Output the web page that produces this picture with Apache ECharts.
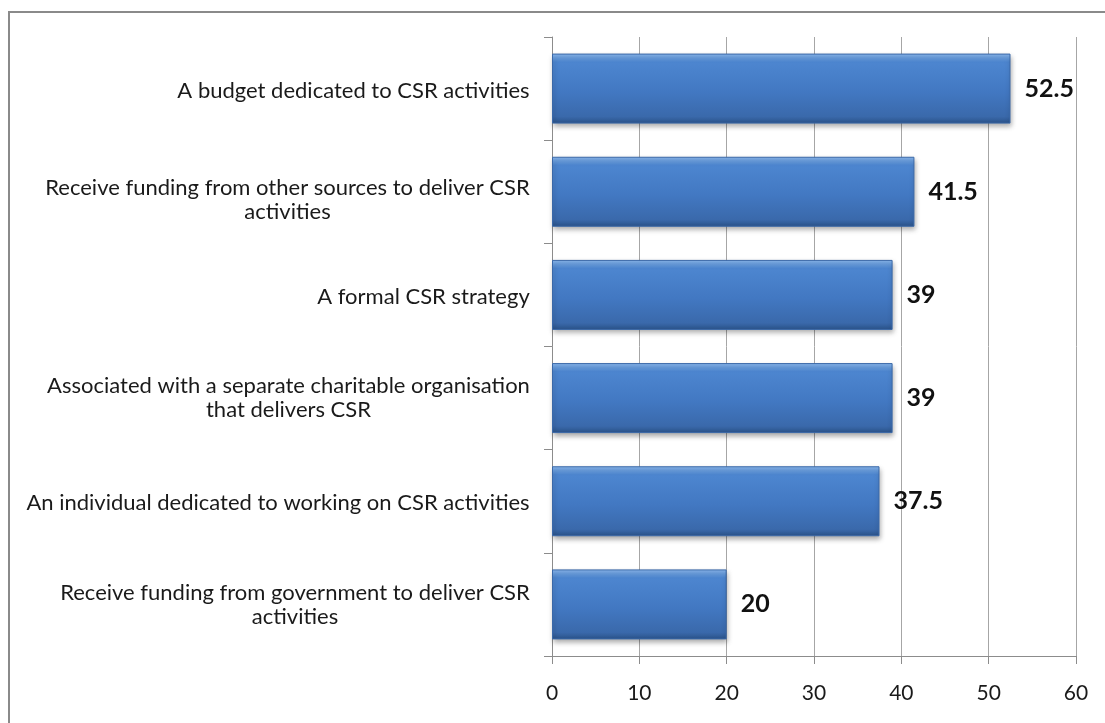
<!DOCTYPE html>
<html>
<head>
<meta charset="utf-8">
<style>
  html, body { margin: 0; padding: 0; background: #ffffff; }
  #chart { width: 1105px; height: 723px; }
</style>
<script src="https://cdn.jsdelivr.net/npm/echarts@6/dist/echarts.min.js"></script>
</head>
<body>
<div id="chart"></div>
<script>
// Share of organisations reporting each CSR arrangement (%)
const categories = [
  'A budget dedicated to CSR activities',
  'Receive funding from other sources to deliver CSR\nactivities',
  'A formal CSR strategy',
  'Associated with a separate charitable organisation\nthat delivers CSR',
  'An individual dedicated to working on CSR activities',
  'Receive funding from government to deliver CSR\nactivities'
];
const values = [52.5, 41.5, 39, 39, 37.5, 20];
const xTicks = [0, 10, 20, 30, 40, 50, 60];

const LABEL_FONT = 'Lato';
const LABEL_SIZE = 22;
// per-label vertical nudge (px, downward)
const labelNudge = [2, 8, 2, 0, 2, 0];

// Measure each label's widest line so multi-line labels can be centred
// within their own block while the block stays right-aligned to the axis.
const ctx = document.createElement('canvas').getContext('2d');
ctx.font = LABEL_SIZE + 'px ' + LABEL_FONT;
const rich = {};
categories.forEach((c, i) => {
  const w = Math.max(...c.split('\n').map(s => ctx.measureText(s).width));
  rich['c' + i] = {
    width: Math.ceil(w),
    align: 'center',
    fontFamily: LABEL_FONT,
    fontSize: LABEL_SIZE,
    lineHeight: 24,
    padding: [labelNudge[i] * 2, 0, 0, 0],
    color: '#1a1a1a'
  };
});

const chart = echarts.init(document.getElementById('chart'));
chart.setOption({
  backgroundColor: '#ffffff',
  animation: false,
  graphic: [{
    type: 'rect',
    shape: { x: 9, y: 12, width: 1200, height: 900 },
    style: { fill: 'none', stroke: '#8a8a8a', lineWidth: 2 },
    silent: true,
    z: 100
  }],
  grid: { left: 552, right: 29, top: 37, bottom: 67, containLabel: false },
  xAxis: {
    type: 'value',
    min: xTicks[0],
    max: xTicks[xTicks.length - 1],
    interval: 10,
    axisLine: { show: true, lineStyle: { color: '#8c8c8c', width: 1 } },
    axisTick: { show: true, length: 8, lineStyle: { color: '#8c8c8c' } },
    axisLabel: {
      margin: 27,
      fontFamily: LABEL_FONT,
      fontSize: 21,
      color: '#1a1a1a'
    },
    splitLine: { show: true, lineStyle: { color: '#a6a6a6', width: 1 } }
  },
  yAxis: {
    type: 'category',
    inverse: true,
    data: categories,
    axisLine: { show: true, lineStyle: { color: '#8c8c8c', width: 1 } },
    axisTick: { show: true, length: 8, inside: false, lineStyle: { color: '#8c8c8c' } },
    axisLabel: {
      margin: 22,
      formatter: (v, i) => '{c' + i + '|' + v + '}',
      rich: rich
    }
  },
  series: [{
    type: 'bar',
    data: values,
    barWidth: 70,
    itemStyle: {
      color: new echarts.graphic.LinearGradient(0, 0, 0, 1, [
        { offset: 0, color: '#8dbaf0' },
        { offset: 0.06, color: '#6a9fe0' },
        { offset: 0.12, color: '#4d86d0' },
        { offset: 0.55, color: '#4278c2' },
        { offset: 0.9, color: '#3a69ab' },
        { offset: 1, color: '#2a5288' }
      ]),
      borderColor: '#3a68a8',
      borderWidth: 1,
      shadowColor: 'rgba(0,0,0,0.35)',
      shadowBlur: 5,
      shadowOffsetX: 1,
      shadowOffsetY: 3
    },
    label: {
      show: true,
      position: 'right',
      distance: 14,
      fontFamily: LABEL_FONT,
      fontWeight: 'bold',
      fontSize: 25,
      color: '#111111'
    }
  }]
});
</script>
</body>
</html>
